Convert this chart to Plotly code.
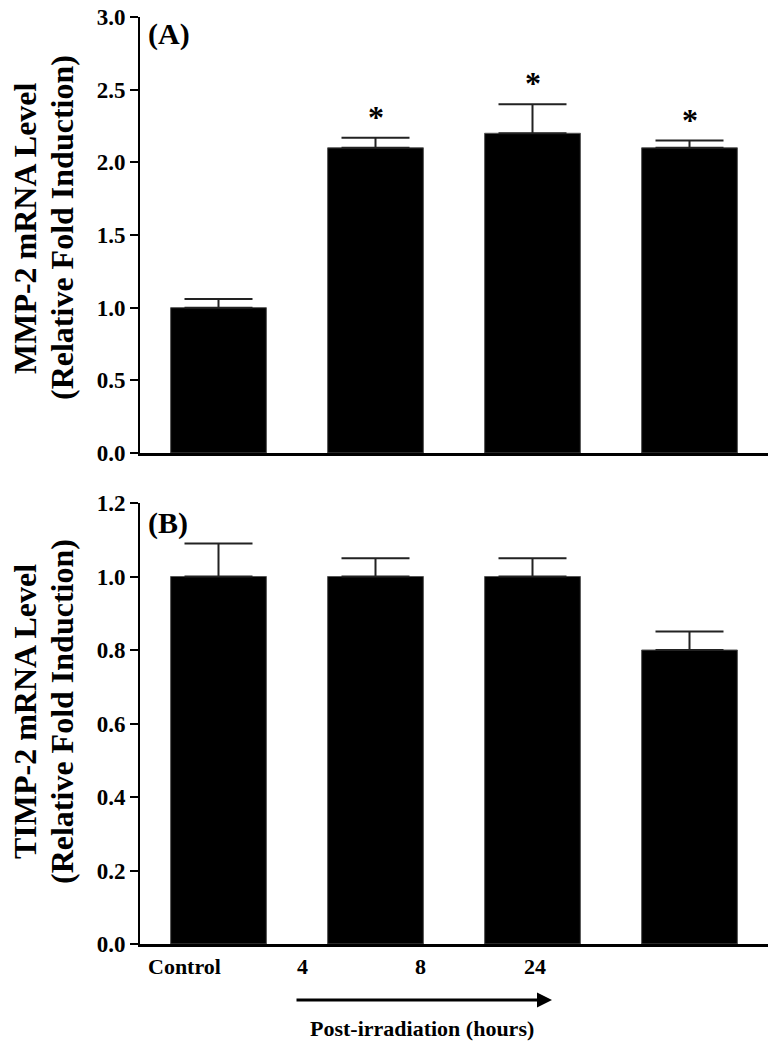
import plotly.graph_objects as go
from plotly.subplots import make_subplots

categories = ["Control", "4", "8", "24"]
mmp2_values = [1.0, 2.1, 2.2, 2.1]
mmp2_errors = [0.06, 0.07, 0.2, 0.05]
timp2_values = [1.0, 1.0, 1.0, 0.8]
timp2_errors = [0.09, 0.05, 0.05, 0.05]
mmp2_significant = [False, True, True, True]
mmp2_ticks = [0.0, 0.5, 1.0, 1.5, 2.0, 2.5, 3.0]
timp2_ticks = [0.0, 0.2, 0.4, 0.6, 0.8, 1.0, 1.2]

FONT = "Liberation Serif"
W, H = 778, 1050
L, R, T, B = 140, 10, 17, 106
PW, PH = W - L - R, H - T - B

def px_x(p):
    return (p - L) / PW

def px_y(p):
    return (H - B - p) / PH

fig = make_subplots(rows=2, cols=1, shared_xaxes=False, vertical_spacing=0.05)

for row, vals, errs in [(1, mmp2_values, mmp2_errors), (2, timp2_values, timp2_errors)]:
    fig.add_trace(go.Bar(
        x=categories, y=vals, width=0.61,
        marker=dict(color="black", line=dict(color="#555555", width=1)),
        error_y=dict(type="data", array=errs, arrayminus=[0] * len(errs), symmetric=False,
                     color="#222222", thickness=2, width=34),
        showlegend=False, hoverinfo="skip",
    ), row=row, col=1)

axis_common = dict(showline=True, linecolor="black", linewidth=2.5, showgrid=False,
                   zeroline=False, range=[-0.5, 3.5], showticklabels=False, ticks="",
                   automargin=False)
fig.update_layout(xaxis=dict(domain=[0, 1], **axis_common),
                  xaxis2=dict(domain=[0, 1], **axis_common))

yax_common = dict(showline=True, linecolor="black", linewidth=2, showgrid=False,
                  zeroline=False, ticks="outside", ticklen=8, tickwidth=2,
                  tickcolor="black", tickformat=".1f", automargin=False,
                  ticklabeloverflow="allow",
                  tickfont=dict(family=FONT, size=23, color="black", weight="bold"))
fig.update_layout(
    yaxis=dict(domain=[px_y(453), 1.0], range=[0, 3.0], tickvals=mmp2_ticks, **yax_common),
    yaxis2=dict(domain=[0.0, px_y(503)], range=[0, 1.2], tickvals=timp2_ticks, **yax_common),
)

annotations = []
# significance stars
for i, (v, e, sig) in enumerate(zip(mmp2_values, mmp2_errors, mmp2_significant)):
    if sig:
        annotations.append(dict(x=i, y=v + e, xref="x", yref="y", text="<b>*</b>",
                                showarrow=False, yanchor="bottom", yshift=1,
                                font=dict(family=FONT, size=32, color="black")))
# panel letters
annotations.append(dict(x=px_x(146), y=px_y(34), xref="paper", yref="paper", text="<b>(A)</b>",
                        showarrow=False, xanchor="left", yanchor="middle",
                        font=dict(family=FONT, size=30, color="black")))
annotations.append(dict(x=px_x(146), y=px_y(523), xref="paper", yref="paper", text="<b>(B)</b>",
                        showarrow=False, xanchor="left", yanchor="middle",
                        font=dict(family=FONT, size=30, color="black")))
# y-axis titles (two lines each)
title_lines = [("MMP-2 mRNA Level", "(Relative Fold Induction)", 228),
               ("TIMP-2 mRNA Level", "(Relative Fold Induction)", 712)]
for line1, line2, cy in title_lines:
    for txt, cx in [(line1, 25), (line2, 62)]:
        annotations.append(dict(x=px_x(cx), y=px_y(cy), xref="paper", yref="paper",
                                text="<b>%s</b>" % txt, showarrow=False, textangle=-90,
                                xanchor="center", yanchor="middle",
                                font=dict(family=FONT, size=32, color="black")))
# category labels (offset as in the original figure)
label_px = [184, 302, 420, 535]
for cat, lx in zip(categories, label_px):
    annotations.append(dict(x=px_x(lx), y=px_y(966), xref="paper", yref="paper",
                            text="<b>%s</b>" % cat, showarrow=False,
                            xanchor="center", yanchor="middle",
                            font=dict(family=FONT, size=22, color="black")))
# arrow and caption
annotations.append(dict(x=px_x(552), y=px_y(1000), xref="paper", yref="paper", text="",
                        showarrow=True, arrowhead=2, arrowsize=1, arrowwidth=3,
                        arrowcolor="black", ax=-257, ay=0, axref="pixel", ayref="pixel"))
annotations.append(dict(x=px_x(422), y=px_y(1028), xref="paper", yref="paper",
                        text="<b>Post-irradiation (hours)</b>", showarrow=False,
                        xanchor="center", yanchor="middle",
                        font=dict(family=FONT, size=22, color="black")))

fig.update_layout(
    width=W, height=H,
    margin=dict(l=L, r=R, t=T, b=B, autoexpand=False),
    paper_bgcolor="white", plot_bgcolor="white",
    bargap=0.4,
    annotations=annotations,
)

fig.write_html("out.html", config={"displayModeBar": False},
               post_script="document.body.style.margin='0';document.body.style.overflow='hidden';")
